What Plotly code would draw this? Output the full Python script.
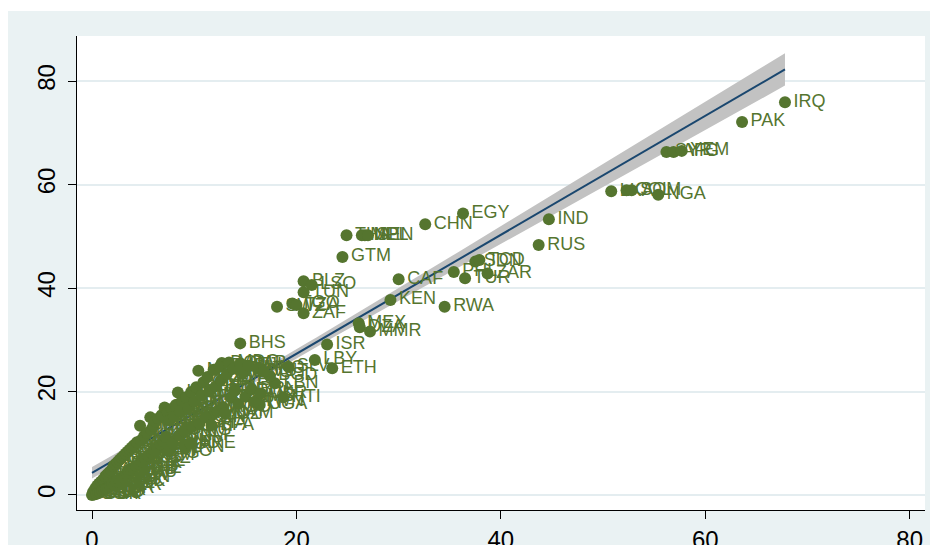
import numpy as np
import plotly.graph_objects as go

# ---- data: labelled countries (x, y) ----
named_iso = ["IRQ", "PAK", "SYR", "AFG", "YEM", "LKA", "COL", "SOM", "NGA",
             "IND", "RUS", "EGY", "CHN", "THA", "MLI", "NPL", "SEN", "GTM",
             "CAF", "KEN", "RWA", "PHL", "TUR", "SDN", "TCD", "ZAR",
             "BLZ", "LSO", "TUN", "SWZ", "TGO", "TZA", "ZAF", "BHS", "ISR",
             "MEX", "DZA", "MMR", "LBY", "ETH", "SLV", "DOM", "BRA",
             "LBN", "HTI", "UGA", "BGD", "MOZ"]
named_x = [67.8, 63.6, 56.2, 56.9, 57.7, 50.8, 52.3, 52.8, 55.4,
           44.7, 43.7, 36.3, 32.6, 24.9, 26.4, 26.7, 27.0, 24.5,
           30.0, 29.2, 34.5, 35.4, 36.5, 37.5, 37.9, 38.7,
           20.7, 21.5, 20.7, 18.1, 19.6, 20.0, 20.7, 14.5, 23.0,
           26.1, 26.2, 27.2, 21.8, 23.5, 19.2, 12.7, 12.0,
           17.9, 18.7, 16.4, 17.4, 11.8]
named_y = [75.9, 72.1, 66.3, 66.3, 66.5, 58.7, 58.9, 58.9, 58.0,
           53.3, 48.3, 54.4, 52.3, 50.2, 50.2, 50.2, 50.2, 46.0,
           41.7, 37.7, 36.4, 43.1, 41.9, 45.1, 45.4, 42.8,
           41.3, 40.6, 39.2, 36.4, 37.0, 36.7, 35.1, 29.3, 29.1,
           33.2, 32.4, 31.6, 26.1, 24.5, 24.8, 25.5, 24.2,
           21.6, 18.9, 17.4, 23.0, 15.5]

# ---- data: dense cluster near origin ----
cluster_iso = ["USA", "CAN", "GBR", "FRA", "DEU", "ITA", "ESP", "PRT", "NLD", "BEL",
               "LUX", "CHE", "AUT", "SWE", "NOR", "DNK", "FIN", "ISL", "IRL", "AUS",
               "NZL", "JPN", "KOR", "SGP", "GRC", "CYP", "MLT", "CZE", "SVK", "POL",
               "HUN", "SVN", "HRV", "EST", "LVA", "LTU", "ROU", "BGR", "SRB", "BIH",
               "MNE", "MKD", "ALB", "MDA", "BLR", "GEO", "ARM", "AZE", "KAZ", "KGZ",
               "UZB", "TKM", "TJK", "MNG", "ARG", "CHL", "URY", "PRY", "BOL", "PER",
               "ECU", "VEN", "CRI", "PAN", "CUB", "JAM", "TTO", "GUY", "SUR", "HND",
               "NIC", "KHM", "LAO", "VNM", "MYS", "IDN", "PNG", "IRN", "JOR", "SAU",
               "ARE", "KWT", "QAT", "OMN", "BHR", "MAR", "GHA", "CIV", "CMR", "GIN",
               "SLE", "LBR", "BFA", "NER", "BEN", "MWI", "ZMB", "ZWE", "AGO", "NAM",
               "BWA", "MDG", "ERI", "DJI", "BDI", "MRT", "GAB", "COG", "GMB", "FJI",
               "BRN", "TWN", "HKG", "UKR", "VUT"]
cluster_x = [0.0, 0.1, 0.2, 0.3, 0.4, 0.5, 0.6, 0.7, 0.8, 0.9,
             1.0, 1.1, 1.2, 1.3, 1.4, 1.5, 1.6, 1.7, 1.8, 1.9,
             2.0, 2.1, 2.2, 2.3, 2.4, 2.5, 2.6, 2.7, 2.8, 2.9,
             3.0, 3.1, 3.2, 3.3, 3.4, 3.5, 3.6, 3.7, 3.8, 3.9,
             4.0, 4.1, 4.3, 4.4, 4.6, 4.7, 4.8, 4.9, 5.1, 5.2,
             5.4, 5.5, 5.7, 5.8, 5.9, 6.0, 6.1, 6.2, 6.4, 6.5,
             6.7, 6.8, 7.0, 7.1, 7.2, 7.4, 7.5, 7.6, 7.8, 7.9,
             8.0, 8.2, 8.4, 8.5, 8.6, 8.8, 9.0, 9.1, 9.2, 9.4,
             9.6, 9.7, 9.8, 10.0, 10.2, 10.4, 10.5, 10.7, 10.9, 11.1,
             11.3, 11.5, 11.7, 11.9, 12.1, 12.3, 12.5, 12.6, 12.8, 13.0,
             13.2, 13.4, 13.6, 13.8, 14.0, 14.3, 14.5, 14.8, 15.0, 15.3,
             15.6, 15.9, 16.2, 16.5, 16.8]
cluster_y = [0.0, 0.6, 0.1, 1.2, 0.2, 1.8, 0.4, 2.2, 0.5, 2.6,
             0.8, 3.0, 1.0, 3.6, 1.2, 4.0, 1.5, 4.4, 1.8, 4.8,
             2.2, 5.6, 1.9, 6.0, 2.6, 6.4, 3.0, 6.8, 2.7, 7.2,
             3.4, 7.6, 3.8, 8.0, 4.1, 8.4, 4.4, 8.8, 4.9, 9.2,
             5.2, 9.6, 5.6, 10.2, 6.0, 13.4, 10.6, 6.5, 11.4, 7.0,
             12.0, 7.6, 15.0, 12.6, 8.0, 13.4, 8.6, 14.2, 9.2, 14.8,
             9.8, 15.4, 10.4, 16.9, 11.2, 16.0, 8.4, 14.4, 16.6, 10.0,
             15.2, 17.4, 19.8, 11.5, 16.2, 18.2, 12.4, 9.1, 18.9, 16.8,
             10.0, 19.9, 13.2, 18.0, 20.8, 24.0, 13.8, 19.2, 21.8, 15.0,
             22.8, 20.0, 13.5, 24.2, 21.0, 16.2, 24.8, 22.2, 17.0, 15.8,
             23.4, 25.6, 18.8, 24.4, 20.2, 17.6, 25.4, 23.6, 19.0, 25.0,
             20.4, 18.0, 24.4, 19.6, 23.8]

x_all = np.array(named_x + cluster_x, dtype=float)
y_all = np.array(named_y + cluster_y, dtype=float)
iso_all = named_iso + cluster_iso

# ---- linear fit with 95% CI of the mean prediction ----
n = len(x_all)
b, a = np.polyfit(x_all, y_all, 1)
resid = y_all - (a + b * x_all)
s = np.sqrt(np.sum(resid ** 2) / (n - 2))
xbar = x_all.mean()
sxx = np.sum((x_all - xbar) ** 2)
xf = np.linspace(x_all.min(), x_all.max(), 100)
yf = a + b * xf
se = s * np.sqrt(1.0 / n + (xf - xbar) ** 2 / sxx)
tcrit = 1.974
lo = yf - tcrit * se
hi = yf + tcrit * se

GREEN = "#55752f"
NAVY = "#1a476f"
BG = "#eaf2f3"

fig = go.Figure()
fig.add_trace(go.Scatter(x=np.concatenate([xf, xf[::-1]]),
                         y=np.concatenate([hi, lo[::-1]]),
                         fill="toself", fillcolor="#c2c2c2",
                         line=dict(width=0), mode="lines", hoverinfo="skip"))
fig.add_trace(go.Scatter(x=xf, y=yf, mode="lines",
                         line=dict(color=NAVY, width=2)))
fig.add_trace(go.Scatter(x=x_all, y=y_all, mode="markers+text", text=iso_all,
                         textposition="middle right",
                         textfont=dict(family="Liberation Sans, Arial", size=18, color=GREEN),
                         marker=dict(size=12, color=GREEN), cliponaxis=False))

W, H = 938, 545
L, R, T, B = 69, 21, 28, 43
pw, ph = W - L - R, H - T - B

fig.update_layout(
    width=W, height=H, showlegend=False,
    margin=dict(l=L, r=R, t=T, b=B, autoexpand=False),
    paper_bgcolor=BG, plot_bgcolor="white",
    font=dict(family="Liberation Sans, Arial", color="black"),
    shapes=[
        dict(type="rect", xref="paper", yref="paper", x0=-0.2, x1=1.1,
             y0=(ph + T - 3) / ph, y1=1.2, fillcolor="white", line=dict(width=0), layer="above"),
    ],
)
fig.update_xaxes(range=[-1.47, 81.5], tickvals=[0, 20, 40, 60, 80], showgrid=False,
                 zeroline=False, showline=True, linecolor="black", linewidth=1,
                 ticks="outside", ticklen=8, tickcolor="black", automargin=False,
                 tickfont=dict(size=24), ticklabelstandoff=0)
fig.update_yaxes(range=[-2.9, 88.7], tickvals=[0, 20, 40, 60, 80], showgrid=True,
                 gridcolor="#e4edf0", gridwidth=1.5, zeroline=False,
                 showline=True, linecolor="black", linewidth=1, automargin=False,
                 ticks="outside", ticklen=8, tickcolor="black",
                 tickfont=dict(size=24), tickangle=-90, ticklabelstandoff=3)

fig.write_html("out.html")
